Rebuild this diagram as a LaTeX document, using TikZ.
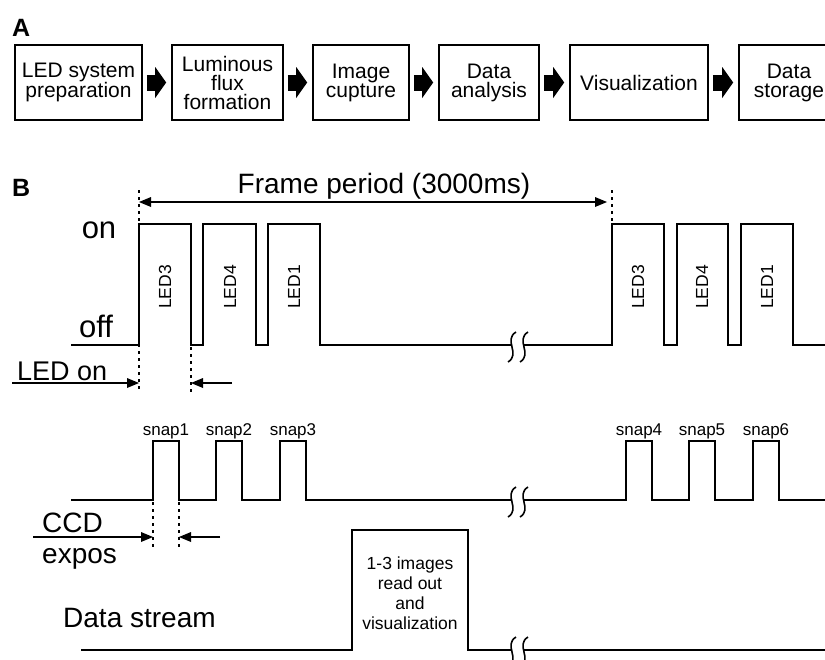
\documentclass[tikz,border=0pt]{standalone}
\usepackage{fontspec}
\setmainfont{Liberation Sans}
\usetikzlibrary{arrows.meta,calc}

\newcommand{\fsz}[2]{\fontsize{#1}{#2}\selectfont}

\tikzset{
  stage/.style={draw, line width=1.6pt, minimum height=75pt, inner sep=0pt,
    align=center, font=\fsz{21}{19}},
  flow/.style={line width=16pt,
    -{Triangle[length=11pt,width=31pt,line width=0pt]}},
  sig/.style={line width=1.6pt, line join=miter},
  guide/.style={line width=1.5pt, dash pattern=on 3pt off 4pt},
  dimarrow/.style={line width=1.5pt, -{Triangle[length=12pt,width=10pt,line width=0pt]}},
  biarrow/.style={line width=1.5pt,
    {Triangle[length=12pt,width=10pt,line width=0pt]}-{Triangle[length=12pt,width=10pt,line width=0pt]}},
  panel/.style={font=\fsz{25}{25}\bfseries, anchor=base west, inner sep=0pt},
  biglabel/.style={font=\fsz{28}{30}, anchor=base west, inner sep=0pt},
  onoff/.style={font=\fsz{31}{31}, anchor=base, inner sep=0pt},
  ledlabel/.style={font=\fsz{17.5}{17.5}, rotate=90, inner sep=0pt},
  snaplabel/.style={font=\fsz{17}{17}, anchor=base, inner sep=0pt},
  brk/.pic={\draw[sig] (4,-13) .. controls (-9,-5) and (9,9) .. (-4,17);}
}

\begin{document}
\begin{tikzpicture}[x=1pt,y=-1pt]
\useasboundingbox (0,0) rectangle (825,659);

% ---------- Panel A: processing stages ----------
\node[panel] (pA) at (12,36) {A};

\node[stage, minimum width=127pt] (b1) at (78.5,82.5) {LED system\\preparation};
\node[stage, minimum width=111pt] (b2) at (227.5,82.5) {Luminous\\flux\\formation};
\node[stage, minimum width=96pt]  (b3) at (361,82.5) {Image\\cupture};
\node[stage, minimum width=100pt] (b4) at (489,82.5) {Data\\analysis};
\node[stage, minimum width=138pt] (b5) at (639,82.5) {Visualization};
\node[stage, minimum width=100pt] (b6) at (789,82.5) {Data\\storage};

\draw[flow] ($(b1.east)+(4,0)$) -- ($(b2.west)+(-5,0)$);
\draw[flow] ($(b2.east)+(4,0)$) -- ($(b3.west)+(-5,0)$);
\draw[flow] ($(b3.east)+(4,0)$) -- ($(b4.west)+(-5,0)$);
\draw[flow] ($(b4.east)+(4,0)$) -- ($(b5.west)+(-5,0)$);
\draw[flow] ($(b5.east)+(4,0)$) -- ($(b6.west)+(-5,0)$);

% ---------- Panel B: timing ----------
\node[panel] (pB) at (12,196) {B};

% frame period
\node[font=\fsz{28}{30}, anchor=base, inner sep=0pt] (fp) at (384,193) {Frame period (3000ms)};
\coordinate (fpL) at (139,202);
\coordinate (fpR) at (607,202);
\draw[biarrow] (fpL) -- (fpR);

% LED drive signal
\node[onoff] (on)  at (99,238) {on};
\node[onoff] (off) at (96,337) {off};

\draw[sig] (71,345) -- (139,345) -- (139,224) -- (191,224) -- (191,345)
  -- (203,345) -- (203,224) -- (256,224) -- (256,345)
  -- (268,345) -- (268,224) -- (320,224) -- (320,345) -- (512,345);
\draw[sig] (524,345) -- (612,345) -- (612,224) -- (664,224) -- (664,345)
  -- (677,345) -- (677,224) -- (728,224) -- (728,345)
  -- (741,345) -- (741,224) -- (793,224) -- (793,345) -- (830,345);
\pic at (512,345) {brk};
\pic at (524,345) {brk};

\node[ledlabel] (l1) at (165,287) {LED3};
\node[ledlabel] (l2) at (230,287) {LED4};
\node[ledlabel] (l3) at (294,287) {LED1};
\node[ledlabel] (l4) at (638,287) {LED3};
\node[ledlabel] (l5) at (702,287) {LED4};
\node[ledlabel] (l6) at (767,287) {LED1};

% guide lines
\draw[guide] (139,190) -- (139,392);
\draw[guide] (612,190) -- (612,222);
\draw[guide] (191,347) -- (191,392);

% LED on width
\node[font=\fsz{27}{29}, anchor=base west, inner sep=0pt] (ledon) at (17,380) {LED on};
\coordinate (lo0) at (12,383);
\coordinate (lo1) at (139,383);
\coordinate (lo2) at (232,383);
\coordinate (lo3) at (191,383);
\draw[dimarrow] (lo0) -- (lo1);
\draw[dimarrow] (lo2) -- (lo3);

% CCD exposure signal
\draw[sig] (71,500) -- (153,500) -- (153,441) -- (179,441) -- (179,500)
  -- (216,500) -- (216,441) -- (242,441) -- (242,500)
  -- (280,500) -- (280,441) -- (306,441) -- (306,500) -- (512,500);
\draw[sig] (524,500) -- (626,500) -- (626,441) -- (652,441) -- (652,500)
  -- (689,500) -- (689,441) -- (715,441) -- (715,500)
  -- (753,500) -- (753,441) -- (779,441) -- (779,500) -- (830,500);
\pic at (512,500) {brk};
\pic at (524,500) {brk};

\node[snaplabel] (s1) at (166,435) {snap1};
\node[snaplabel] (s2) at (229,435) {snap2};
\node[snaplabel] (s3) at (293,435) {snap3};
\node[snaplabel] (s4) at (639,435) {snap4};
\node[snaplabel] (s5) at (702,435) {snap5};
\node[snaplabel] (s6) at (766,435) {snap6};

\draw[guide] (153,502) -- (153,547);
\draw[guide] (179,502) -- (179,547);

\node[biglabel] (ccd) at (42,532) {CCD};
\node[biglabel] (expo) at (42,563) {expos};
\coordinate (ce0) at (33,537);
\coordinate (ce1) at (153,537);
\coordinate (ce2) at (220,537);
\coordinate (ce3) at (179,537);
\draw[dimarrow] (ce0) -- (ce1);
\draw[dimarrow] (ce2) -- (ce3);

% data stream
\node[biglabel] (ds) at (63,627) {Data stream};
\draw[sig] (81,650) -- (352,650) -- (352,530) -- (468,530) -- (468,650) -- (512,650);
\draw[sig] (524,650) -- (830,650);
\pic at (512,650) {brk};
\pic at (524,650) {brk};
\node[font=\fsz{17.5}{20}, align=center, inner sep=0pt] (rd) at (410,593)
  {1-3 images\\read out\\and\\visualization};

\end{tikzpicture}
\end{document}
